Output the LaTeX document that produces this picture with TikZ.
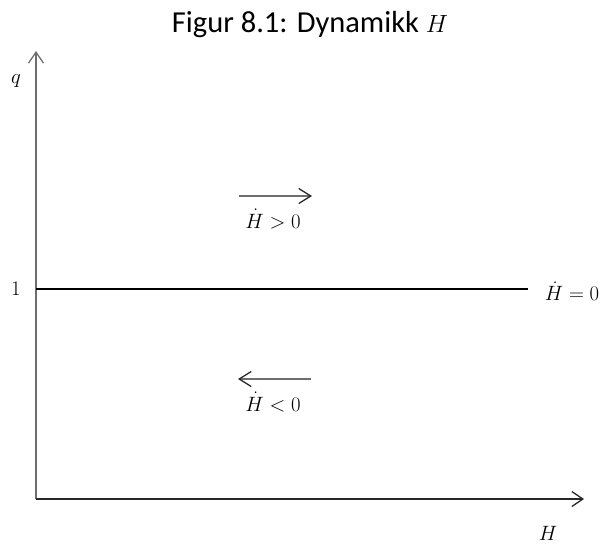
\documentclass[tikz,border=0pt]{standalone}
\usepackage{amsmath}
\usepackage{xcolor}
\usepackage{fontspec}
\usepackage{tikz}
\usetikzlibrary{
	arrows.meta,
	positioning
}
\newfontfamily\titlefont{Carlito}
\definecolor{AxisGray}{RGB}{110,110,110}
\definecolor{LineDark}{RGB}{40,40,40}
\tikzset{
	axis/.style={line width=1.3pt, -{Straight Barb[length=11pt, width=15pt, line width=1.3pt]}},
	flow/.style={line width=1.6pt, AxisGray, -{Straight Barb[length=12pt, width=15pt, line width=1.3pt, color=LineDark]}},
	lbl/.style={inner sep=0pt, font=\fontsize{19.5}{23}\selectfont}
}

\begin{document}
\begin{tikzpicture}[x=1pt, y=-1pt]
			\useasboundingbox (0,0) rectangle (602,544);
			\node[inner sep=0pt, anchor=base, font=\titlefont\fontsize{30.5}{36}\selectfont] (title) at (310,32) {Figur 8.1: Dynamikk $H$};
			\coordinate (O) at (36,499);
			\coordinate (ytop) at (36,51);
			\coordinate (xend) at (584,499);
			\coordinate (one) at (36,289);
			\coordinate (hend) at (528,289);
			\draw[axis, AxisGray] (O) -- (ytop);
			\draw[axis, LineDark] (O) -- (xend);
			\draw[line width=1.3pt, black] (one) -- (hend);
			\node[lbl] (qlbl) at (16,81) {$q$};
			\node[lbl] (onelbl) at (16,289) {$1$};
			\node[lbl] (Hlbl) at (548,533) {$H$};
			\node[lbl] (zero) at (572,291) {$\dot{H} = 0$};
			\coordinate (upL) at (239,196);
			\coordinate (upR) at (312,196);
			\draw[flow] (upL) -- (upR);
			\node[lbl] (pos) at (273,219) {$\dot{H} > 0$};
			\coordinate (dnL) at (238,379);
			\coordinate (dnR) at (311,379);
			\draw[flow] (dnR) -- (dnL);
			\node[lbl] (neg) at (273,402) {$\dot{H} < 0$};
		\end{tikzpicture}
\end{document}
